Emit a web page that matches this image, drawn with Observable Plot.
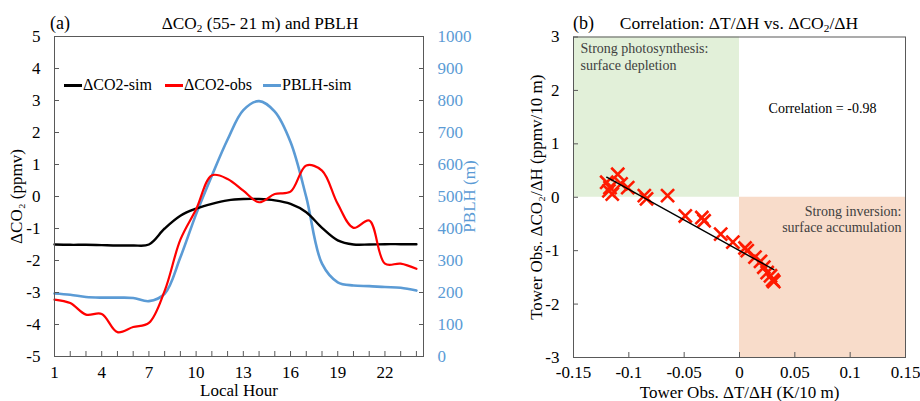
<!DOCTYPE html>
<html><head><meta charset="utf-8">
<script src="https://cdn.jsdelivr.net/npm/d3@7"></script>
<script src="https://cdn.jsdelivr.net/npm/@observablehq/plot@0.6"></script>
<style>
body{margin:0;background:#fff;}
#wrap{position:relative;width:920px;height:401px;overflow:hidden;background:#fff;}
#wrap svg{position:absolute;top:0;overflow:visible;}
#wrap svg, #wrap svg text{font-family:"Liberation Serif","Times New Roman",serif !important;font-variant:normal !important;}
.lbl{position:absolute;white-space:nowrap;font-family:"Liberation Serif",serif;color:#000;line-height:1;}
.lbl sub{font-size:0.65em;vertical-align:-0.25em;line-height:0;}
.sw{display:inline-block;width:18px;height:3px;vertical-align:middle;margin-right:1px;position:relative;top:-1px;}
</style></head><body><div id="wrap"></div>
<script>
// ---------- Panel (a) data ----------
const hours = [1,2,3,4,5,6,7,8,9,10,11,12,13,14,15,16,17,18,19,20,21,22,23,24];
const co2Sim = [-1.50,-1.51,-1.51,-1.52,-1.53,-1.53,-1.50,-1.00,-0.60,-0.38,-0.23,-0.12,-0.08,-0.08,-0.12,-0.23,-0.49,-0.98,-1.37,-1.50,-1.50,-1.49,-1.49,-1.49];
const co2Obs = [-3.22,-3.33,-3.69,-3.67,-4.24,-4.08,-3.95,-2.95,-1.35,-0.40,0.66,0.55,0.18,-0.18,0.08,0.15,0.97,0.81,-0.23,-0.98,-0.75,-2.10,-2.10,-2.26];
const pblhSim = [197,193,186,184,184,183,173,196,310,445,565,678,770,798,765,670,498,290,232,222,220,217,215,206];
const hourTickLabels = [1,4,7,10,13,16,19,22];
const co2Ticks = [-5,-4,-3,-2,-1,0,1,2,3,4,5];
const pblhTicks = [0,100,200,300,400,500,600,700,800,900,1000];
const pblhMax = 1000;

// ---------- Panel (b) data ----------
const dTdH = [-0.117,-0.110,-0.120,-0.118,-0.115,-0.107,-0.101,-0.086,-0.084,-0.065,-0.049,-0.034,-0.032,-0.017,-0.006,0.005,0.007,0.014,0.019,0.022,0.025,0.028,0.030,0.031];
const dCO2dH = [0.18,0.43,0.28,0.12,0.06,0.25,0.18,0.03,-0.03,0.03,-0.35,-0.38,-0.44,-0.69,-0.84,-0.95,-1.00,-1.12,-1.20,-1.31,-1.41,-1.47,-1.55,-1.58];
const xTicksB = [-0.15,-0.1,-0.05,0,0.05,0.1,0.15];
const yTicksB = [-3,-2,-1,0,1,2,3];
const quadDepletion = {x1:-0.15, x2:0, y1:0, y2:3};
const quadAccumulation = {x1:0, x2:0.15, y1:-3, y2:0};
const correlation = -0.98;

// ---------- build ----------
const wrap = document.getElementById("wrap");
const FONT = '"Liberation Serif", "Times New Roman", serif';
const BLUE = "#5B9BD5";

const co2Min = co2Ticks[0], co2Max = co2Ticks[co2Ticks.length-1];
const toLeft = v => co2Min + v / pblhMax * (co2Max - co2Min);
const fromLeft = d => String(Math.round((d - co2Min) / (co2Max - co2Min) * pblhMax));

const simRows = hours.map((h,i)=>({h, v: co2Sim[i]}));
const obsRows = hours.map((h,i)=>({h, v: co2Obs[i]}));
const pblhRows = hours.map((h,i)=>({h, v: toLeft(pblhSim[i])}));
const labelSet = new Set(hourTickLabels);

const pa = Plot.plot({
  width: 480, height: 401,
  marginLeft: 54, marginRight: 57, marginTop: 36, marginBottom: 45,
  style: {fontFamily: FONT, fontSize: "15px", background: "transparent", overflow: "visible", color: "#000"},
  x: {domain: [1, 24.45]},
  y: {domain: [co2Min, co2Max]},
  marks: [
    Plot.line(pblhRows, {x: "h", y: "v", stroke: BLUE, strokeWidth: 2.6, curve: "catmull-rom"}),
    Plot.line(simRows, {x: "h", y: "v", stroke: "#000", strokeWidth: 2.4, curve: "catmull-rom"}),
    Plot.line(obsRows, {x: "h", y: "v", stroke: "#ff0000", strokeWidth: 2.2, curve: "catmull-rom"}),
    Plot.frame({stroke: "#595959", strokeWidth: 1}),
    Plot.axisX({anchor: "bottom", ticks: hours, tickSize: -5, tickPadding: 14, stroke: "#595959", fontFamily: FONT,
      tickFormat: d => labelSet.has(d) ? String(d) : "", label: "Local Hour", labelAnchor: "center", labelOffset: 39, fontSize: 16}),
    Plot.axisY({anchor: "left", ticks: co2Ticks, tickSize: -5, tickPadding: 19, stroke: "#595959", fontFamily: FONT,
      tickFormat: d => String(d), label: "ΔCO₂ (ppmv)", labelAnchor: "center", labelOffset: 45, fontSize: 16}),
    Plot.axisY({anchor: "right", ticks: pblhTicks.map(toLeft), tickSize: -5, tickPadding: 19, stroke: "#595959", fontFamily: FONT,
      color: BLUE, fill: BLUE, tickFormat: fromLeft, label: "PBLH (m)", labelAnchor: "center", labelOffset: 51, fontSize: 16})
  ]
});
pa.style.left = "0px";
wrap.appendChild(pa);

const points = dTdH.map((x,i)=>({x, y: dCO2dH[i]}));
const pb = Plot.plot({
  width: 440, height: 401,
  marginLeft: 93, marginRight: 15, marginTop: 36.5, marginBottom: 44,
  style: {fontFamily: FONT, fontSize: "15px", background: "transparent", overflow: "visible", color: "#000"},
  x: {domain: [xTicksB[0], xTicksB[xTicksB.length-1]]},
  y: {domain: [yTicksB[0], yTicksB[yTicksB.length-1]]},
  marks: [
    Plot.rect([quadDepletion], {x1: "x1", x2: "x2", y1: "y1", y2: "y2", fill: "#E2F0D9"}),
    Plot.rect([quadAccumulation], {x1: "x1", x2: "x2", y1: "y1", y2: "y2", fill: "#F8DCCA"}),
    Plot.text(["Strong photosynthesis:\nsurface depletion"], {text: d => d, frameAnchor: "top-left", dx: 7, dy: 5, textAnchor: "start", lineAnchor: "top", fontSize: 14, fill: "#404040", lineHeight: 1.15, fontFamily: FONT}),
    Plot.text(["Strong inversion:\nsurface accumulation"], {text: d => d, frameAnchor: "right", dx: -4, dy: 22, textAnchor: "end", lineAnchor: "middle", fontSize: 14, fill: "#404040", lineHeight: 1.15, fontFamily: FONT}),
    Plot.text([`Correlation = ${correlation}`], {text: d => d, frameAnchor: "top", dx: 83, dy: 72, lineAnchor: "middle", fontSize: 14, fill: "#000", fontFamily: FONT}),
    Plot.dot(points, {x: "x", y: "y", symbol: "times", r: 6, stroke: "#ff1a00", strokeWidth: 2.6}),
    Plot.linearRegressionY(points, {x: "x", y: "y", stroke: "#000", strokeWidth: 1.4, ci: 0}),
    Plot.frame({stroke: "#595959", strokeWidth: 1}),
    Plot.axisX({anchor: "bottom", ticks: xTicksB, tickSize: -5, tickPadding: 13, stroke: "#595959", fontFamily: FONT,
      tickFormat: d => String(d), label: "Tower Obs. ΔT/ΔH (K/10 m)", labelAnchor: "center", labelOffset: 40, fontSize: 16}),
    Plot.axisY({anchor: "left", ticks: yTicksB, tickSize: -5, tickPadding: 19, stroke: "#595959", fontFamily: FONT,
      tickFormat: d => String(d), label: "Tower Obs. ΔCO₂/ΔH (ppmv/10 m)", labelAnchor: "center", labelOffset: 44, fontSize: 16})
  ]
});
pb.style.left = "480px";
wrap.appendChild(pb);

for (const svg of [pa, pb]) {
  svg.querySelectorAll("g[aria-label$='label'] text").forEach(t => {
    t.textContent = t.textContent.replace(/[↑→←↓]\s?|\s?[↑→←↓]/g, "");
    t.setAttribute("font-size", "17");
  });
}

function addLabel(html, left, top, size, extra) {
  const d = document.createElement("div");
  d.className = "lbl";
  d.innerHTML = html;
  d.style.left = left + "px";
  d.style.top = top + "px";
  d.style.fontSize = size + "px";
  if (extra) Object.assign(d.style, extra);
  wrap.appendChild(d);
  return d;
}
addLabel("(a)", 50, 14, 18);
addLabel("ΔCO<sub>2</sub> (55- 21 m) and PBLH", 260, 14.5, 17.3, {transform: "translateX(-50%)"});
addLabel("(b)", 573, 14, 18);
addLabel("Correlation: ΔT/ΔH vs. ΔCO<sub>2</sub>/ΔH", 739, 14.5, 17.5, {transform: "translateX(-50%)"});
addLabel('<span class="sw" style="background:#000"></span>ΔCO2-sim', 64, 77, 16);
addLabel('<span class="sw" style="background:#ff0000"></span>ΔCO2-obs', 165, 77, 16);
addLabel('<span class="sw" style="background:' + BLUE + '"></span>PBLH-sim', 263, 77, 16);
</script></body></html>
